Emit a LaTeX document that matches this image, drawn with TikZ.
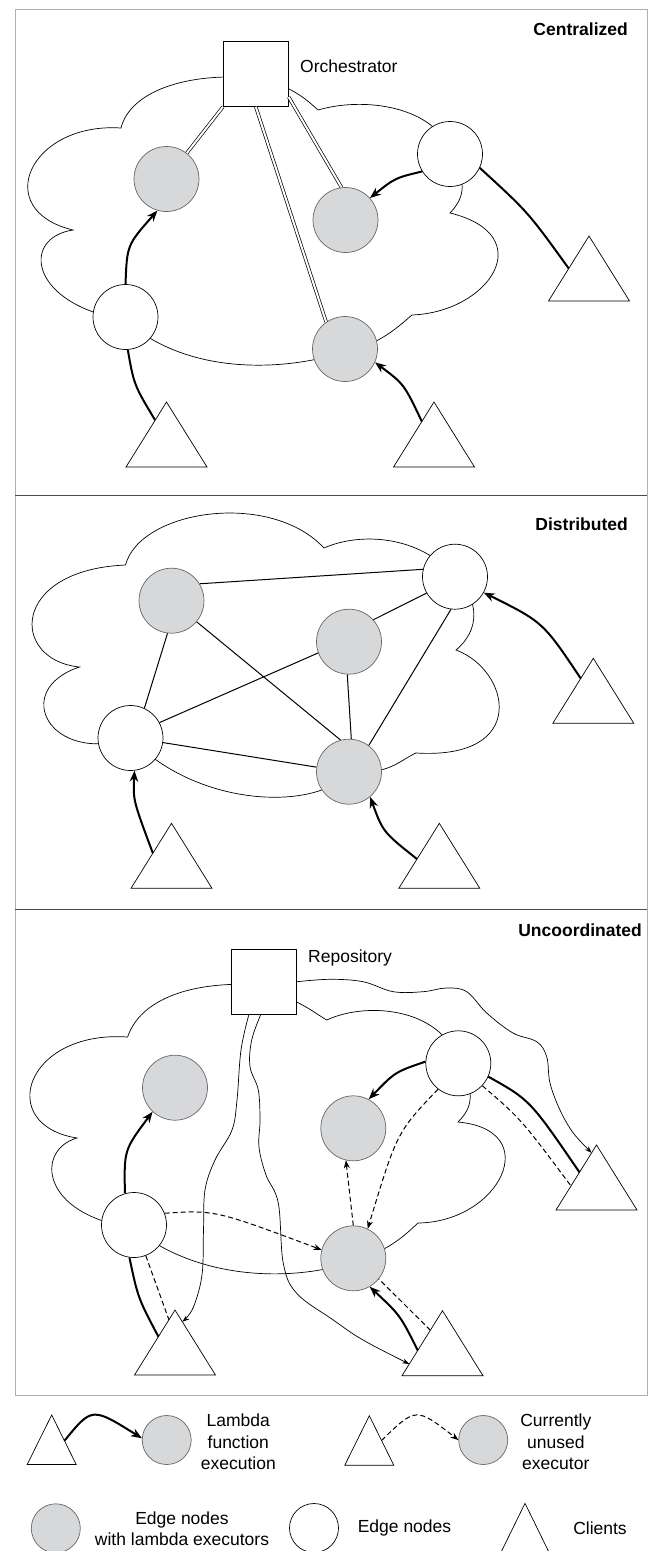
\documentclass[tikz,border=0pt]{standalone}
\usepackage{fontspec}
\setmainfont{Liberation Sans}
\usetikzlibrary{shapes.geometric,arrows.meta,calc,backgrounds}
\definecolor{execgray}{RGB}{215,216,218}
\definecolor{framegray}{RGB}{175,175,175}
\tikzset{
  lam/.style={x=1pt,y=-1pt,font=\fontsize{17.5}{21.3}\selectfont},
  execnode/.style={circle,minimum size=65pt,inner sep=0pt,fill=execgray,draw=black!60,line width=0.7pt},
  edgenode/.style={circle,minimum size=65pt,inner sep=0pt,fill=white,draw=black,line width=0.7pt},
  client/.style={isosceles triangle,isosceles triangle stretches,shape border rotate=90,
    minimum width=81pt,minimum height=65pt,inner sep=0pt,outer sep=0pt,fill=white,draw,line width=0.7pt,anchor=apex},
  hub/.style={rectangle,minimum size=65pt,inner sep=0pt,fill=white,draw,line width=0.7pt},
  cloudline/.style={line width=0.7pt},
  runline/.style={line width=2pt},
  runarrow/.style={runline,-{Stealth[length=11pt,width=8.5pt]}},
  idleline/.style={line width=1pt,dash pattern=on 5pt off 3pt},
  idlearrow/.style={idleline,-{Stealth[length=8pt,width=6pt]}},
  fetch/.style={line width=0.7pt,-{Stealth[length=7pt,width=5pt]}},
  orchlink/.style={double,double distance=2pt,line width=0.7pt},
  mesh/.style={line width=1pt},
  paneltitle/.style={font=\fontsize{17.5}{21.3}\selectfont\bfseries,inner sep=0pt},
  lbl/.style={inner sep=0pt},
}

\begin{document}
\begin{tikzpicture}[lam]
  \useasboundingbox (0,0) rectangle (656,1551);
  \draw[framegray,line width=0.8pt] (15,9) rectangle (647,1395);
  \draw[black!70,line width=0.8pt] (15,495) -- (647,495);
  \draw[black!70,line width=0.8pt] (15,909) -- (647,909);

  % --- centralized
  \node[paneltitle,anchor=east] (t1) at (628,29) {Centralized};
  \node[hub] (orch) at (255.8,74) {};
  \node[lbl,anchor=west] (orchtxt) at (300,66) {Orchestrator};
  \node[execnode] (e1a) at (166.5,179) {};
  \node[execnode] (e1b) at (345.5,220) {};
  \node[edgenode] (w1r) at (450,154) {};
  \node[edgenode] (w1l) at (125.5,317) {};
  \node[execnode] (e1d) at (345,349) {};
  \node[client] (c1l) at (166.5,402) {};
  \node[client] (c1m) at (434,402) {};
  \node[client] (c1r) at (589,236) {};
  \begin{scope}[on background layer]
    \draw[cloudline] (255,78) .. controls (185,72) and (130,92) .. (121,128)
      .. controls (30,122) and (-10,210) .. (73,230)
      .. controls (20,238) and (30,305) .. (125.5,320)
      .. controls (180,370) and (270,375) .. (345,352)
      .. controls (380,345) and (400,325) .. (412,315)
      .. controls (490,312) and (540,235) .. (450,213)
      .. controls (462,200) and (470,185) .. (450,154)
      .. controls (440,110) and (370,95) .. (318,110)
      .. controls (305,98) and (290,85) .. (255,78) -- cycle;
  \end{scope}
  \draw[orchlink] (orch.south west) -- (e1a);
  \draw[orchlink] (orch.south) -- (e1d.125);
  \draw[orchlink] (orch.-35) -- (e1b.97);
  \draw[runline] ($(c1l.apex)!0.28!(c1l.left corner)$) .. controls (134,385) .. (w1l.274);
  \draw[runarrow] (w1l.90) .. controls (127,245) .. (e1a.254);
  \draw[runarrow] ($(c1m.apex)!0.3!(c1m.left corner)$) .. controls (404,384) .. (e1d.336);
  \draw[runline] ($(c1r.apex)!0.5!(c1r.left corner)$) .. controls (528,212) .. (w1r.335);
  \draw[runarrow] (w1r.212) .. controls (395,178) .. (e1b.42);

  % --- distributed
  \node[paneltitle,anchor=east] (t2) at (628,524) {Distributed};
  \node[execnode] (e2a) at (171.5,600.7) {};
  \node[execnode] (e2b) at (349,641.7) {};
  \node[edgenode] (w2r) at (455,576.7) {};
  \node[edgenode] (w2l) at (130.5,738) {};
  \node[execnode] (e2d) at (349,771.7) {};
  \node[client] (c2l) at (171.5,823.3) {};
  \node[client] (c2m) at (439.3,823.3) {};
  \node[client] (c2r) at (593.3,658.3) {};
  \begin{scope}[on background layer]
    \draw[cloudline] (125.5,565) .. controls (140,510) and (270,490) .. (324,548)
      .. controls (360,532) and (420,535) .. (455,577)
      .. controls (480,600) and (480,630) .. (456,650)
      .. controls (510,670) and (530,760) .. (416,753)
      .. controls (400,760) and (390,775) .. (349,772)
      .. controls (320,810) and (200,810) .. (130.5,738)
      .. controls (50,765) and (10,690) .. (79.5,667)
      .. controls (10,660) and (10,570) .. (125.5,565) -- cycle;
  \end{scope}
  \foreach \a/\b in {e2a.31/w2r.167, e2a.263/w2l.65, e2a.-40/e2d.105, e2b.42/w2r.210,
                     e2b.200/w2l.28, e2b.267/e2d.86, w2r.263/e2d.53, w2l.352/e2d.172}
    \draw[mesh] (\a) -- (\b);
  \draw[runarrow] ($(c2l.apex)!0.46!(c2l.left corner)$) .. controls (133,800) .. (w2l.277);
  \draw[runarrow] ($(c2m.apex)!0.55!(c2m.left corner)$) .. controls (383,832) .. (e2d.310);
  \draw[runarrow] ($(c2r.apex)!0.31!(c2r.left corner)$) .. controls (543,622) .. (w2r.331);

  % --- uncoordinated
  \node[paneltitle,anchor=east] (t3) at (642,930) {Uncoordinated};
  \node[hub] (repo) at (264.2,981.7) {};
  \node[lbl,anchor=west] (repotxt) at (308,958) {Repository};
  \node[execnode] (e3a) at (175,1087.7) {};
  \node[execnode] (e3b) at (353.3,1128.3) {};
  \node[edgenode] (w3r) at (458.3,1063.3) {};
  \node[edgenode] (w3l) at (134,1225) {};
  \node[execnode] (e3d) at (353.3,1258.3) {};
  \node[client] (c3l) at (175,1310) {};
  \node[client] (c3m) at (442.5,1310.7) {};
  \node[client] (c3r) at (596.5,1145) {};
  \begin{scope}[on background layer]
    \draw[cloudline] (263,985) .. controls (190,980) and (140,1000) .. (127.6,1037)
      .. controls (25,1030) and (-5,1125) .. (77,1138)
      .. controls (35,1150) and (40,1215) .. (134,1228)
      .. controls (190,1275) and (280,1285) .. (353.3,1262)
      .. controls (390,1250) and (405,1235) .. (418,1223)
      .. controls (500,1222) and (545,1130) .. (458,1122)
      .. controls (470,1110) and (478,1095) .. (458.3,1063.3)
      .. controls (445,1010) and (370,1000) .. (326.7,1020)
      .. controls (310,1010) and (300,1000) .. (263,990) -- cycle;
  \end{scope}
  \draw[fetch] plot[smooth,tension=0.6] coordinates {(repo.245) (241,1050) (237,1100) (232,1130)
    (215,1160) (205,1190) (203.5,1230) (202,1275) (193,1308) ($(c3l.apex)!0.18!(c3l.right corner)$)};
  \draw[fetch] plot[smooth,tension=0.6] coordinates {(repo.264) (251.7,1040) (250,1066.7) (258.3,1090)
    (260,1120) (259,1147) (266,1175) (278.3,1203) (283.3,1263.3) (296.7,1293.3) (333.3,1320)
    (363,1340) ($(c3m.apex)!0.82!(c3m.left corner)$)};
  \draw[fetch] plot[smooth,tension=0.6] coordinates {(repo.east) (330,979.3) (363,981.7) (393.3,991.7)
    (423,991.7) (446.7,988) (466.7,991.7) (486.7,1013) (513,1033) (536.7,1041.7) (546.7,1056.7)
    (550,1083) (560,1110) (573.3,1133) ($(c3r.apex)!0.12!(c3r.left corner)$)};
  \draw[runline] ($(c3l.apex)!0.41!(c3l.left corner)$) .. controls (138,1298) .. (w3l.262);
  \draw[idleline] (w3l.291) -- ($(c3l.apex)!0.15!(c3l.left corner)$);
  \draw[runarrow] (w3l.106) .. controls (124,1150) .. (e3a.227);
  \draw[idlearrow] (w3l.21) .. controls (215,1210) .. (e3d.165);
  \draw[runarrow] ($(c3m.apex)!0.61!(c3m.left corner)$) .. controls (400,1315) .. (e3d.300);
  \draw[idleline] ($(c3m.apex)!0.3!(c3m.left corner)$) -- (e3d.321);
  \draw[idlearrow] (e3d.90) -- (e3b.257);
  \draw[idlearrow] (w3r.232) .. controls (397,1132) .. (e3d.64);
  \draw[runarrow] (w3r.177) .. controls (395,1072) .. (e3b.62);
  \draw[runline] (w3r.336) .. controls (530,1100) .. ($(c3r.apex)!0.42!(c3r.left corner)$);
  \draw[idleline] (w3r.317) .. controls (521,1119) .. ($(c3r.apex)!0.63!(c3r.left corner)$);

  % --- legend
  \node[client,minimum width=49pt,minimum height=49.5pt] (lc1) at (51.7,1415) {};
  \node[execnode,minimum size=49pt] (le1) at (166.7,1440) {};
  \draw[runarrow] ($(lc1.apex)!0.52!(lc1.right corner)$) .. controls (92,1407) .. (le1.176);
  \node[lbl,align=center] (lt1) at (238.3,1442) {Lambda\\function\\execution};
  \node[client,minimum width=49pt,minimum height=49.5pt] (lc2) at (369.3,1415.7) {};
  \node[execnode,minimum size=49pt] (le2) at (483.2,1440) {};
  \draw[idlearrow] ($(lc2.apex)!0.5!(lc2.right corner)$) .. controls (416,1407) .. (le2.180);
  \node[lbl,align=center] (lt2) at (555.8,1442) {Currently\\unused\\executor};
  \node[execnode,minimum size=49pt] (le3) at (55.8,1528.3) {};
  \node[lbl,align=center] (lt3) at (182,1529) {Edge nodes\\with lambda executors};
  \node[edgenode,minimum size=49pt] (lw) at (314,1528) {};
  \node[lbl] (lt4) at (404.5,1528) {Edge nodes};
  \node[client,minimum width=49pt,minimum height=50pt] (lc3) at (525,1503.3) {};
  \node[lbl] (lt5) at (600,1528.3) {Clients};
\end{tikzpicture}
\end{document}
